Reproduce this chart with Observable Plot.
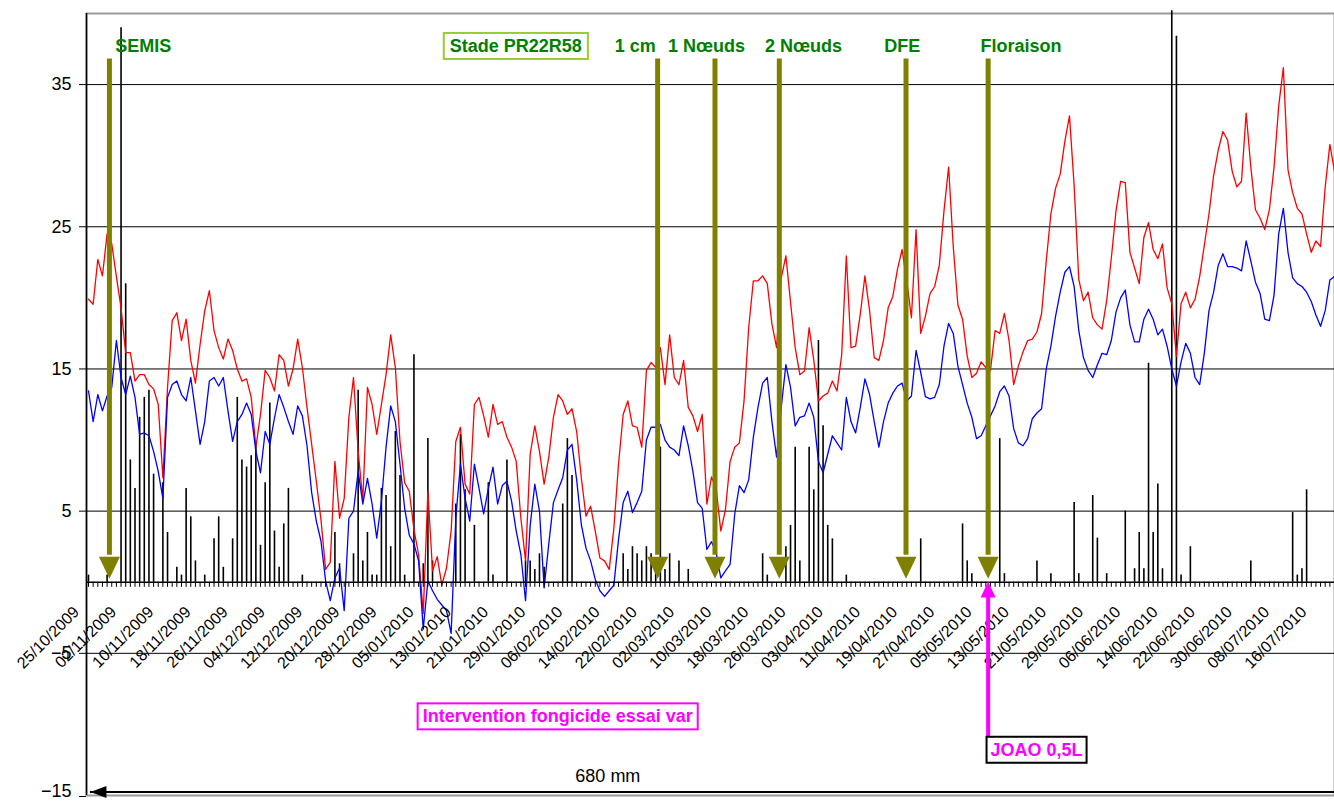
<!DOCTYPE html>
<html><head><meta charset="utf-8">
<script src="https://cdn.jsdelivr.net/npm/d3@7"></script>
<script src="https://cdn.jsdelivr.net/npm/@observablehq/plot@0.6"></script>
<style>html,body{margin:0;padding:0;background:#fff;}</style>
</head><body><div id="chart"></div>
<script>
// Daily series from 25/10/2009 (index 0) to 20/07/2010 (index 268)
const firstDay = "2009-10-25";
const tmax = [
19.9,19.55,22.7,21.55,24.5,23.8,21.5,19.3,16.15,16.15,
14.15,14.6,14.6,13.9,13.6,12.5,7.35,13.7,18.4,18.95,
17.0,18.5,15.6,14.0,16.7,19.1,20.5,17.7,16.5,15.7,
17.1,16.3,15.0,14.15,14.3,13.0,9.5,11.8,14.9,14.4,
13.45,16.0,15.6,13.8,15.0,17.1,15.1,12.3,9.7,7.1,
4.4,0.9,1.4,8.5,4.5,5.9,11.6,14.4,9.2,5.8,
13.7,12.5,10.4,12.5,14.6,17.4,15.1,9.9,7.0,6.4,
3.7,1.95,-2.2,6.4,0.8,1.8,-0.2,1.0,3.6,9.9,
10.9,6.9,6.2,12.5,13.0,11.7,10.2,12.5,11.1,11.3,
10.2,9.5,8.5,4.5,1.5,9.0,11.0,9.2,6.9,8.8,
11.6,13.2,12.75,11.8,12.2,10.6,7.35,4.65,5.35,3.6,
1.7,1.5,0.9,3.8,8.3,11.8,12.75,11.0,10.9,9.5,
14.9,15.45,15.1,16.5,13.9,17.4,14.4,13.9,15.6,12.3,
11.7,10.6,11.8,5.5,7.4,6.6,3.6,5.1,8.5,9.5,
9.8,12.75,17.9,21.2,21.2,21.55,21.0,18.15,16.5,21.4,
22.96,19.7,16.5,14.6,14.85,17.9,15.6,12.75,13.1,13.3,
14.15,13.45,16.0,22.96,16.5,16.6,18.85,21.55,19.1,15.8,
15.6,17.0,19.3,20.1,22.0,23.4,21.2,18.6,24.8,17.5,
18.7,20.3,20.8,22.3,26.1,29.2,23.6,19.5,18.5,15.9,
14.4,14.7,15.5,15.1,14.9,17.7,17.5,18.9,17.0,13.9,
15.2,16.2,17.0,17.1,17.6,18.9,22.6,25.9,27.7,28.7,
31.0,32.8,27.9,21.3,19.8,20.4,18.6,18.1,17.8,19.8,
22.8,26.1,28.2,28.1,23.2,22.1,21.0,24.25,25.3,23.4,
22.75,23.8,20.7,19.6,15.9,19.6,20.4,19.3,19.9,21.5,
23.7,25.9,28.6,30.4,31.7,31.1,28.9,27.8,28.2,33.0,
29.2,26.2,25.6,24.8,26.2,29.2,33.5,36.2,29.0,27.4,
26.3,25.9,24.5,23.2,24.0,23.6,27.8,30.8,28.9
];
const tmin = [
13.45,11.3,13.2,12.05,13.1,13.7,17.0,14.4,13.2,14.5,
13.0,10.4,10.5,10.3,9.2,7.8,5.9,13.0,13.9,14.15,
13.2,12.75,14.4,12.05,9.7,11.3,14.15,14.4,13.8,14.4,
12.05,9.9,11.3,11.8,12.6,11.8,9.2,7.7,10.6,9.7,
11.55,13.2,12.3,11.3,10.4,12.4,11.7,9.6,6.3,4.3,
2.9,0.1,-1.3,0.3,1.0,-2.0,4.5,5.0,7.8,5.5,
7.3,5.5,3.1,5.7,9.5,12.4,11.3,8.3,5.2,3.3,
2.7,1.5,-3.3,0.1,-0.6,-1.2,-1.6,-2.0,-3.6,4.5,
8.3,5.9,4.3,8.3,6.6,4.8,6.6,8.1,5.5,6.8,
7.1,5.7,3.6,1.95,-1.3,4.0,6.9,5.0,-0.4,2.7,
5.6,6.5,7.35,9.3,9.7,7.2,4.06,2.4,1.5,0.2,
-0.6,-1.0,-0.6,-0.2,3.0,5.6,6.4,4.9,5.6,6.4,
10.0,10.9,10.9,11.1,10.0,9.5,9.3,8.9,11.0,9.6,
7.8,5.6,5.2,2.3,2.85,2.1,0.3,0.8,1.25,4.8,
6.8,6.3,7.2,10.2,12.3,14.0,14.4,11.3,8.8,12.3,
15.3,13.7,11.0,11.6,11.7,12.6,11.6,8.5,7.7,9.0,
10.3,9.8,9.3,13.0,11.3,10.5,12.3,14.3,13.2,11.3,
9.5,11.3,12.6,13.3,13.8,14.0,12.75,13.1,16.3,14.75,
13.05,12.9,13.0,13.9,16.6,18.2,17.5,15.2,13.9,12.6,
11.6,10.1,10.3,11.0,11.7,12.4,13.4,13.8,13.1,10.8,
9.8,9.6,10.1,11.5,11.9,12.2,15.0,16.6,18.7,20.4,
21.8,22.2,20.8,17.7,15.8,14.9,14.4,15.3,16.1,16.0,
17.0,19.0,20.0,20.55,18.1,16.9,16.9,18.5,19.2,18.5,
17.4,17.8,16.6,15.0,13.8,15.5,16.8,16.1,14.4,13.9,
16.1,19.1,20.4,22.3,23.1,22.2,22.2,22.1,21.9,24.0,
22.6,21.1,20.3,18.5,18.4,20.2,24.5,26.3,23.2,21.4,
21.0,20.8,20.4,19.75,18.8,18.0,19.1,21.25,21.5
];
const rain = [
0.5,0,0,0,0.5,0,0,39,21,8.6,
6.6,11.6,13,13.5,7.6,0,7,3.5,0,1.05,
0.5,6.6,4.6,1.5,0,0.5,0,3.05,4.6,1.05,
0,3.05,13,8.6,8.1,8.9,9.8,2.6,7,12.6,
3.6,1.05,4.1,6.6,0,0,0.5,0,0,0,
0,0,0,3.5,1.3,0,0,2,13.5,1.5,
3.5,0.5,0.5,6.6,6.1,2.5,10.6,7.5,0.5,0,
16,0,1.3,10.1,1.5,0,0,0,0,5.5,
10.4,6.5,0,4,0,0,7,0.5,0,0,
8.6,0,0,0,1.5,1.5,0.9,2,1.05,0,
0,0,5.5,10.1,7.5,0,0,0,0,0,
0,0,0,0,0,2,0.9,2.5,2,1.5,
2.5,2,1.3,9.5,0.9,2,0,1.5,0,0.9,
0,0,0,0,0,0,0,0,0,0,
0,0,0,0,0,2,0.5,0,0,0,
2.5,4,9.5,1.5,0,9.5,6.5,17,11,4,
3.05,0,0,0.5,0,0,0,0,0,0,
0,0,0,0,0,0,0,0,0,3.05,
0,0,0,0,0,0,0,0,4.1,1.5,
0.6,0,0,0,0,0,10.1,0.6,0,0,
0,0,0,0,1.5,0,0,0.6,0,0,
0,0,5.6,0.6,0,0,6.1,3.1,0,0.6,
0,0,0,5,0,0.95,3.5,0.95,15.4,3.5,
6.9,0.95,0,40.2,38.4,0.5,0,2.5,0,0,
0,0,0,0,0,0,0,0,0,0,
1.5,0,0,0,0,0,0,0,0,4.9,
0.5,0.95,6.5,0,0,0,0,0,0
];
const tickLabels = ["25/10/2009","02/11/2009","10/11/2009","18/11/2009","26/11/2009","04/12/2009","12/12/2009","20/12/2009","28/12/2009","05/01/2010","13/01/2010","21/01/2010","29/01/2010","06/02/2010","14/02/2010","22/02/2010","02/03/2010","10/03/2010","18/03/2010","26/03/2010","03/04/2010","11/04/2010","19/04/2010","27/04/2010","05/05/2010","13/05/2010","21/05/2010","29/05/2010","06/06/2010","14/06/2010","22/06/2010","30/06/2010","08/07/2010","16/07/2010"];
const yTicks = [35, 25, 15, 5, -5];
const yTickBottom = [-15];
const gridValues = [35, 25, 15, 5, -5];

// Annotations
const stageNames = ["SEMIS", "1 cm", "1 Nœuds", "2 Nœuds", "DFE", "Floraison"];
const stageArrowDates = ["2009-10-29T12:00", "2010-02-24T10:00", "2010-03-08T18:00", "2010-03-22T14:00", "2010-04-18T20:00", "2010-05-06T12:00"];
const stageLabelDates = ["2009-11-05T19:00", "2010-02-19T14:00", "2010-03-06T22:00", "2010-03-27T19:00", "2010-04-18T01:00", "2010-05-13T14:00"];
const stadeLabel = ["Stade PR22R58"], stadeDate = ["2010-01-24T22:00"];
const treatLabel = ["Intervention fongicide essai var"], treatDate = ["2010-02-02T22:00"], treatY = [-9.45];
const productLabel = ["JOAO 0,5L"], productDate = ["2010-05-16T22:00"], productY = [-11.8];
const productArrowDate = ["2010-05-06T12:00"];
const totalLabel = ["680 mm"], totalDate = ["2010-02-13T17:00"], totalY = [-13.66];
const totalArrow = {from: "2009-10-25T10:00", to: "2010-07-20T00:00", y: -14.75};
const labelY = 37.7, arrowTop = 36.8, arrowBase = 1.9, arrowTip = 0.25;
const magTip = 0.05, magBase = -1.0, magBottom = -11.0;

const P = s => new Date(s + "Z");
const parseDMY = d3.utcParse("%d/%m/%Y");
const data = tmax.map((v, i) => ({date: new Date(Date.UTC(2009, 9, 25 + i)), tmax: v, tmin: tmin[i], rain: rain[i]}));
const xStart = new Date(Date.UTC(2009, 9, 25) - 0.43 * 864e5);
const xEnd = new Date(Date.UTC(2010, 6, 20));

const triDown = {draw(c) { c.moveTo(-10.5, -22); c.lineTo(10.5, -22); c.lineTo(0, 0); c.closePath(); }};
const triUp = {draw(c) { c.moveTo(-7.5, 16); c.lineTo(7.5, 16); c.lineTo(0, 0); c.closePath(); }};
const triLeft = {draw(c) { c.moveTo(0, 0); c.lineTo(16, -6); c.lineTo(16, 6); c.closePath(); }};

const olive = "#808000", green = "#008000", magenta = "#ff00ff";

const chart = Plot.plot({
  width: 1334, height: 802,
  marginLeft: 86, marginRight: 0, marginTop: 13, marginBottom: 7,
  style: {fontFamily: "'Liberation Sans', Arial, sans-serif", fontSize: "16px", background: "#fff", color: "#000", overflow: "visible"},
  x: {type: "utc", domain: [xStart, xEnd], axis: null},
  y: {domain: [-15, 40]},
  marks: [
    Plot.frame({stroke: "#999", strokeWidth: 2}),
    Plot.ruleY(gridValues, {stroke: "#000", strokeWidth: 1}),
    Plot.ruleX(data.filter(d => d.rain > 0), {x: "date", y1: 0, y2: "rain", stroke: "#000", strokeWidth: 1.6}),
    Plot.line(data, {x: "date", y: "tmax", stroke: "#ff0000", strokeWidth: 1.3}),
    Plot.line(data, {x: "date", y: "tmin", stroke: "#0000ff", strokeWidth: 1.3}),
    Plot.ruleX(data, {x: "date", y1: 0, y2: -0.36, stroke: "#000", strokeWidth: 1}),
    Plot.ruleY([0], {stroke: "#000", strokeWidth: 1.5}),
    Plot.ruleX([xStart], {stroke: "#000", strokeWidth: 1.5}),
    Plot.axisY(yTicks, {tickSize: 7, tickPadding: 8, fontSize: 18, label: null}),
    Plot.axisY(yTickBottom, {tickSize: 7, tickPadding: 8, fontSize: 18, label: null, textAnchor: "end", lineAnchor: "bottom", dy: 1}),
    Plot.text(tickLabels, {x: d => parseDMY(d), y: 0, text: d => d, rotate: -45, textAnchor: "end", dx: -12, dy: 27, fontSize: 16, fill: "#000"}),
    // stage arrows
    Plot.ruleX(stageArrowDates, {x: d => P(d), y1: arrowBase, y2: arrowTop, stroke: olive, strokeWidth: 5}),
    Plot.dot(stageArrowDates, {x: d => P(d), y: arrowTip, symbol: triDown, fill: olive, stroke: null, r: 10}),
    Plot.text(stageNames, {x: (d, i) => P(stageLabelDates[i]), y: labelY, text: d => d, fill: green, fontWeight: "bold", fontSize: 18}),
    Plot.text(stadeLabel, {x: (d, i) => P(stadeDate[i]), y: labelY, text: d => d, fill: green, fontWeight: "bold", fontSize: 18}),
    // product arrow
    Plot.ruleX(productArrowDate, {x: d => P(d), y1: magBottom, y2: magBase, stroke: magenta, strokeWidth: 4}),
    Plot.dot(productArrowDate, {x: d => P(d), y: magTip, symbol: triUp, fill: magenta, stroke: null, r: 8}),
    Plot.text(treatLabel, {x: (d, i) => P(treatDate[i]), y: (d, i) => treatY[i], text: d => d, fill: magenta, fontWeight: "bold", fontSize: 18}),
    Plot.text(productLabel, {x: (d, i) => P(productDate[i]), y: (d, i) => productY[i], text: d => d, fill: magenta, fontWeight: "bold", fontSize: 18}),
    Plot.text(totalLabel, {x: (d, i) => P(totalDate[i]), y: (d, i) => totalY[i], text: d => d, fill: "#000", fontSize: 18}),
    Plot.ruleY([totalArrow], {y: "y", x1: d => P(d.from), x2: d => P(d.to), stroke: "#000", strokeWidth: 2}),
    Plot.dot([totalArrow], {x: d => P(d.from), y: "y", symbol: triLeft, fill: "#000", stroke: null, r: 8})
  ]
});
document.getElementById("chart").appendChild(chart);

// boxes around boxed labels
const boxes = {"Stade PR22R58": ["#99cc33", 6, 4], "Intervention fongicide essai var": [magenta, 5, 4], "JOAO 0,5L": ["#000", 4, 4]};
chart.querySelectorAll("text").forEach(t => {
  const b = boxes[t.textContent];
  if (!b) return;
  const bb = t.getBBox();
  const r = document.createElementNS("http://www.w3.org/2000/svg", "rect");
  r.setAttribute("x", bb.x - b[1]);
  r.setAttribute("y", bb.y - b[2] + 1);
  r.setAttribute("width", bb.width + 2 * b[1]);
  r.setAttribute("height", bb.height + 2 * b[2] - 2);
  r.setAttribute("fill", "#fff");
  r.setAttribute("stroke", b[0]);
  r.setAttribute("stroke-width", 2);
  if (t.getAttribute("transform")) r.setAttribute("transform", t.getAttribute("transform"));
  t.parentNode.insertBefore(r, t);
});
</script>
</body></html>
